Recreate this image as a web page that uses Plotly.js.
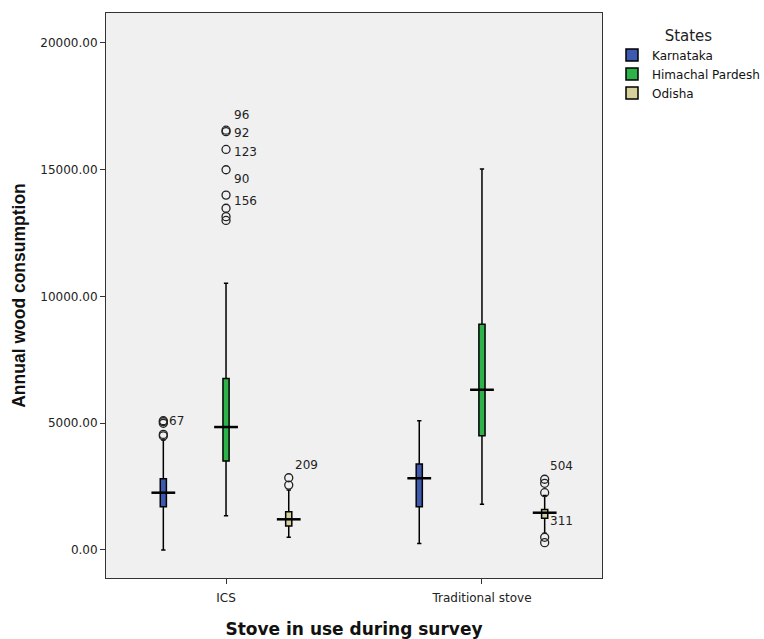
<!DOCTYPE html>
<html><head><meta charset="utf-8">
<script src="https://cdn.plot.ly/plotly-3.0.1.min.js"></script>
<style>html,body{margin:0;padding:0;background:#fff}#chart{width:764px;height:639px}</style>
</head><body><div id="chart"></div>
<script>
// ---- data ----
const categories = ['ICS', 'Traditional stove'];
const states = ['Karnataka', 'Himachal Pardesh', 'Odisha'];
// per state: [ICS, Traditional stove]
const lowerWhisker = [[0, 260], [1350, 1800], [500, 660]];
const q1Values = [[1710, 1710], [3510, 4510], [950, 1250]];
const medianValues = [[2260, 2830], [4850, 6320], [1210, 1470]];
const q3Values = [[2810, 3390], [6760, 8900], [1510, 1600]];
const upperWhisker = [[4340, 5100], [10520, 15030], [2370, 2150]];
// outliers (state index, category index, value, case label)
const outlierState = [0, 0, 0, 0, 0, 1, 1, 1, 1, 1, 1, 1, 1, 2, 2, 2, 2, 2, 2, 2];
const outlierCat = [0, 0, 0, 0, 0, 0, 0, 0, 0, 0, 0, 0, 0, 0, 0, 1, 1, 1, 1, 1];
const outlierValues = [4500, 4560, 5000, 5060, 5100, 13000, 13150, 13480, 14000, 15000, 15800, 16500, 16560, 2560, 2850, 290, 500, 2260, 2630, 2790];
const outlierLabels = ['', '', '', '', '67', '', '', '', '156', '90', '123', '92', '96', '', '209', '', '311', '', '', '504'];
const yTickValues = [0, 5000, 10000, 15000, 20000];

// ---- style ----
const colors = ['#3E5AB0', '#2DB34A', '#D6D19A'];
const stateOffset = [-0.245, 0, 0.245];
const labelShift = {'67': [4, 0], '156': [6, -6], '90': [6, -9], '123': [6, -3], '92': [6, -1], '96': [6, 15], '209': [4, 13], '311': [3, 16], '504': [3, 13]};
const tickFont = {family: 'DejaVu Sans', size: 12, color: '#222'};

const traces = [];
states.forEach((s, j) => {
  const xs = categories.map((c, i) => i + stateOffset[j]);
  traces.push({
    type: 'box', name: s, x: xs,
    lowerfence: lowerWhisker[j], q1: q1Values[j], median: medianValues[j],
    q3: q3Values[j], upperfence: upperWhisker[j],
    boxpoints: false, width: 0.024, whiskerwidth: 0.7,
    fillcolor: colors[j], line: {color: '#000', width: 1.5},
    hoverinfo: 'skip'
  });
});
states.forEach((s, j) => {
  traces.push({
    type: 'scatter', mode: 'markers', showlegend: false, hoverinfo: 'skip',
    x: categories.map((c, i) => i + stateOffset[j]), y: medianValues[j],
    marker: {symbol: 'line-ew', size: 17, line: {color: '#000', width: 2.5}}
  });
});
const ox = outlierValues.map((v, k) => outlierCat[k] + stateOffset[outlierState[k]]);
traces.push({
  type: 'scatter', mode: 'markers', showlegend: false, hoverinfo: 'skip',
  x: ox, y: outlierValues,
  marker: {symbol: 'circle-open', size: 8, color: '#222', line: {color: '#222', width: 1.3}}
});
const annotations = [];
outlierLabels.forEach((t, k) => {
  if (!t) return;
  const sh = labelShift[t] || [4, 0];
  annotations.push({
    x: ox[k], y: outlierValues[k], xref: 'x', yref: 'y', text: t, showarrow: false,
    xanchor: 'left', yanchor: 'middle', xshift: sh[0], yshift: sh[1],
    font: {family: 'DejaVu Sans', size: 12, color: '#222'}
  });
});

const layout = {
  width: 764, height: 639,
  margin: {l: 106, r: 162, t: 13, b: 61},
  paper_bgcolor: '#fff', plot_bgcolor: '#f0f0f0',
  showlegend: true,
  legend: {
    xref: 'container', yref: 'container',
    x: 612 / 764, y: 1 - 21 / 639, xanchor: 'left', yanchor: 'top',
    title: {text: 'States', side: 'top center', font: {family: 'DejaVu Sans', size: 15, color: '#222'}},
    font: {family: 'DejaVu Sans', size: 12, color: '#111'},
    tracegroupgap: 0, itemwidth: 30, bgcolor: 'rgba(0,0,0,0)'
  },
  xaxis: {
    range: [-0.469, 1.469], tickvals: categories.map((c, i) => i), ticktext: categories,
    ticks: 'outside', ticklen: 5, tickcolor: '#333', tickfont: tickFont, ticklabelstandoff: 4,
    showgrid: false, zeroline: false, showline: true, linecolor: '#333', linewidth: 1, mirror: true,
    title: {text: 'Stove in use during survey', font: {family: 'DejaVu Sans', size: 17, color: '#111', weight: 'bold'}, standoff: 18}
  },
  yaxis: {
    range: [-1105, 21183], tickvals: yTickValues, tickformat: '.2f',
    ticks: 'outside', ticklen: 5, tickcolor: '#333', tickfont: tickFont,
    showgrid: false, zeroline: false, showline: true, linecolor: '#333', linewidth: 1, mirror: true,
    title: {text: 'Annual wood consumption\u00a0\u00a0\u00a0\u00a0\u00a0', font: {family: 'Liberation Sans', size: 17.5, color: '#111', weight: 'bold'}, standoff: 10}
  },
  annotations: annotations
};
Plotly.newPlot('chart', traces, layout, {displayModeBar: false, staticPlot: true});
</script>
</body></html>
